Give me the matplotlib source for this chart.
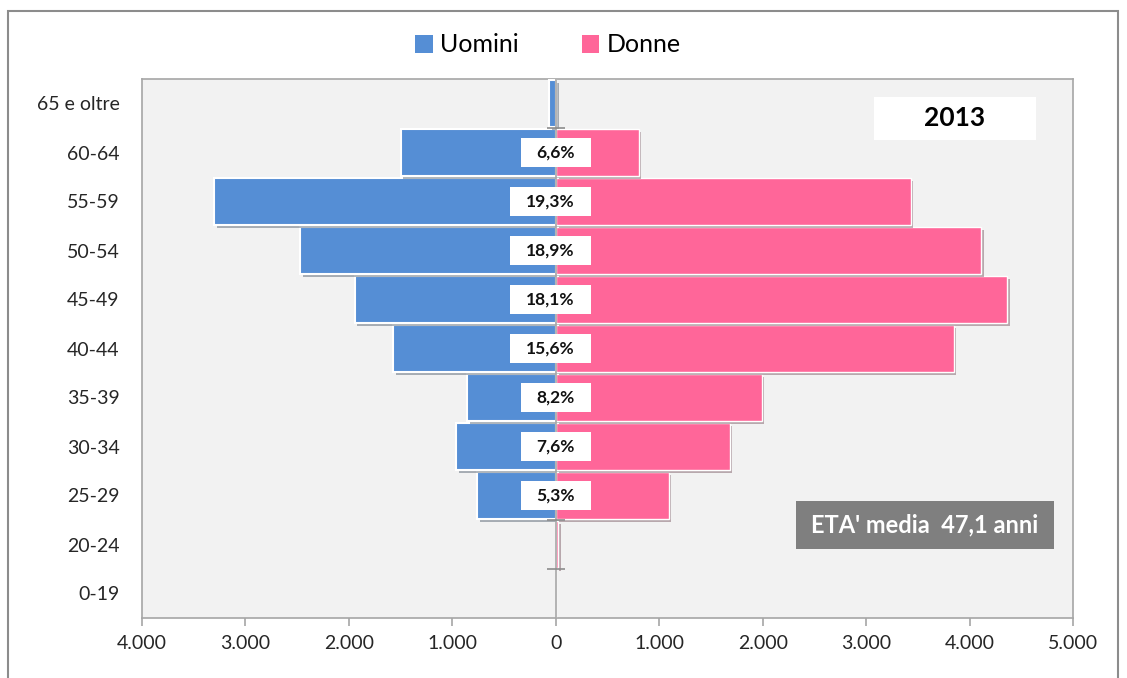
import matplotlib
matplotlib.use("Agg")
import matplotlib.pyplot as plt
import matplotlib.patheffects as pe
from matplotlib.patches import Rectangle, Patch
import numpy as np

plt.rcParams['font.family'] = ['Lato', 'DejaVu Sans']

categories = ["0-19", "20-24", "25-29", "30-34", "35-39", "40-44",
              "45-49", "50-54", "55-59", "60-64", "65 e oltre"]
uomini = [0, 0, 760, 965, 860, 1575, 1945, 2470, 3300, 1500, 65]
donne = [0, 20, 1090, 1680, 1990, 3845, 4360, 4110, 3430, 800, 0]
percent = ["", "", "5,3%", "7,6%", "8,2%", "15,6%", "18,1%", "18,9%", "19,3%", "6,6%", ""]
xticks = [-4000, -3000, -2000, -1000, 0, 1000, 2000, 3000, 4000, 5000]
xticklabels = ["4.000", "3.000", "2.000", "1.000", "0", "1.000", "2.000", "3.000", "4.000", "5.000"]

blue = "#558ED5"
pink = "#FF6699"

fig = plt.figure(figsize=(11.27, 6.78), dpi=100)
ax = fig.add_axes([142/1127, 1-618/678, (1073-142)/1127, (618-79)/678])
ax.set_facecolor("#F2F2F2")

y = np.arange(len(categories))
shadow = [pe.SimplePatchShadow(offset=(2, -2), alpha=0.35), pe.Normal()]
b1 = ax.barh(y, [-v for v in uomini], height=0.95, color=blue, edgecolor="white",
             linewidth=1.5, zorder=3)
b2 = ax.barh(y, donne, height=0.95, color=pink, edgecolor="white",
             linewidth=1.0, zorder=3)
for p in list(b1) + list(b2):
    p.set_path_effects(shadow)

ax.axvline(0, color="#A6A6A6", lw=1.2, zorder=3.5)
# small caps at the centre line (band edges of the smallest bars)
cap_rows = [0.5, 1.5, 9.5]
ax.scatter([0] * len(cap_rows), cap_rows, marker="_", s=160, color="#8C8C8C",
           linewidths=1.2, zorder=4)

# percentage labels in white boxes (right edge fixed, width by text length)
box_right = 340
for i, t in enumerate(percent):
    if t:
        w = 783 if len(t) >= 5 else 677
        ax.add_patch(Rectangle((box_right - w, i - 0.29), w, 0.58, fc="white",
                               ec="none", zorder=5))
        ax.text(box_right - w/2, i, t, ha="center", va="center", fontsize=12.5,
                fontweight="bold", color="#111111", zorder=6)

ax.set_xlim(-4000, 5000)
ax.set_ylim(-0.5, 10.5)
ax.set_xticks(xticks)
ax.set_xticklabels(xticklabels, fontsize=14, color="#262626")
ax.set_yticks(y)
ax.set_yticklabels(categories, fontsize=14, color="#262626")
ax.tick_params(axis="y", length=0, pad=16)
ax.tick_params(axis="x", length=6, color="#A6A6A6", width=1.2, pad=6)
for s in ax.spines.values():
    s.set_color("#A6A6A6")
    s.set_linewidth(1.2)

# year box
ax.add_patch(Rectangle((0.786, 0.887), 0.174, 0.0796, transform=ax.transAxes,
                       fc="white", ec="none", zorder=5))
ax.text(0.873, 0.927, "2013", transform=ax.transAxes, ha="center", va="center",
        fontsize=19, fontweight="bold", color="black", zorder=6)
# mean age box
ax.add_patch(Rectangle((0.7025, 0.128), 0.2771, 0.089, transform=ax.transAxes,
                       fc="#7F7F7F", ec="none", zorder=5))
ax.text(0.841, 0.1725, "ETA' media  47,1 anni", transform=ax.transAxes, ha="center",
        va="center", fontsize=17, fontweight="bold", color="white", zorder=6)

handles = [Patch(fc=blue, ec="none"), Patch(fc=pink, ec="none")]
fig.legend(handles=handles, labels=["Uomini", "Donne"], loc="center",
           bbox_to_anchor=(548/1127, 1-45/678), ncol=2, frameon=False, fontsize=18,
           handlelength=0.7, handleheight=0.7, handletextpad=0.3, columnspacing=2.5)

# outer border
fig.add_artist(Rectangle((8/1127, -0.02), (1118-8)/1127, 1-11/678+0.02,
                         transform=fig.transFigure, fill=False, ec="#8C8C8C", lw=1.5))

fig.savefig("out.png", dpi=100)
